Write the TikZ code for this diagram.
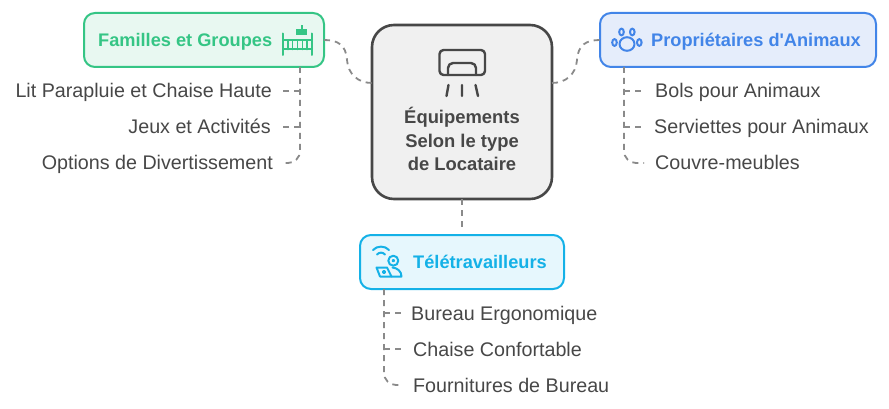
\documentclass[tikz,border=0pt]{standalone}
\usepackage{fontspec}
\setmainfont{Liberation Sans}
\definecolor{inkgrey}{HTML}{474747}
\definecolor{linkgrey}{HTML}{8A8A8A}
\definecolor{famgreen}{HTML}{35C585}
\definecolor{famfill}{HTML}{E8F8F1}
\definecolor{petblue}{HTML}{4285E8}
\definecolor{petfill}{HTML}{E5EDFB}
\definecolor{telcyan}{HTML}{14B1E7}
\definecolor{telfill}{HTML}{E6F7FD}
\tikzset{
  box/.style={draw, line width=2, rounded corners=11, outer sep=0, minimum height=54},
  title/.style={font=\fontsize{18.2}{22}\selectfont\bfseries, inner sep=0, text height=14, text depth=1},
  leaf/.style={font=\fontsize{19.7}{22}\selectfont, text=inkgrey, inner xsep=0, inner ysep=0, text height=16, text depth=2},
  link/.style={draw=linkgrey, line width=1.8, dash pattern=on 6 off 5},
  icon/.style={line width=2, line cap=round, line join=round}
}
\begin{document}
\begin{tikzpicture}[x=1pt, y=-1pt]
  \useasboundingbox (0,0) rectangle (889,409);
  % central node
  \node[box, draw=inkgrey, fill=black!6, line width=2.6, rounded corners=22, minimum width=180, minimum height=174] (hub) at (462,112) {};
  \node[font=\fontsize{18.4}{23.7}\selectfont\bfseries, text=inkgrey, align=center, inner sep=0] (hubtext) at (462,139) {Équipements\\Selon le type\\de Locataire};
  % group boxes
  \node[box, draw=famgreen, fill=famfill, minimum width=240] (fam) at (204,40) {};
  \node[box, draw=petblue, fill=petfill, minimum width=276] (pet) at (738,40) {};
  \node[box, draw=telcyan, fill=telfill, minimum width=204] (tel) at (462,262) {};
  \node[title, text=famgreen, anchor=west] (famtitle) at (98,40) {Familles et Groupes};
  \node[title, text=petblue, anchor=west] (pettitle) at (651,40) {Propriétaires d\textquotesingle Animaux};
  \node[title, text=telcyan, anchor=west] (teltitle) at (413,262) {Télétravailleurs};
  % leaves
  \node[leaf, anchor=east] (fam1) at (272,91) {Lit Parapluie et Chaise Haute};
  \node[leaf, anchor=east] (fam2) at (271,127) {Jeux et Activités};
  \node[leaf, anchor=east] (fam3) at (273,163) {Options de Divertissement};
  \node[leaf, anchor=west] (pet1) at (655,91) {Bols pour Animaux};
  \node[leaf, anchor=west] (pet2) at (654,127) {Serviettes pour Animaux};
  \node[leaf, anchor=west] (pet3) at (655,163) {Couvre-meubles};
  \node[leaf, anchor=west] (tel1) at (411,313) {Bureau Ergonomique};
  \node[leaf, anchor=west] (tel2) at (413,349) {Chaise Confortable};
  \node[leaf, anchor=west] (tel3) at (413,385) {Fournitures de Bureau};
  % connector ends
  \coordinate (hubleft) at (372,83);
  \coordinate (hubright) at (552,83);
  \coordinate (famroot) at (300,67);
  \coordinate (petroot) at (624,67);
  \coordinate (telroot) at (384,289);
  % links to the central node
  \draw[link] (fam.east) .. controls (338,40) and (346,45) .. (347,60) .. controls (348,74) and (358,83) .. (hubleft);
  \draw[link] (hubright) .. controls (566,83) and (576,74) .. (577,60) .. controls (578,45) and (586,40) .. (pet.west);
  \draw[link, shorten >=6] (hub.south) -- (tel.north);
  % branches
  \foreach \a/\b/\g in {famroot/fam1/10,famroot/fam2/10,petroot/pet1/11,petroot/pet2/10,telroot/tel1/9,telroot/tel2/10}
    \draw[link, shorten >=\g] (\a |- \b) -- (\b);
  \foreach \a/\b/\g in {famroot/fam3/9,petroot/pet3/11,telroot/tel3/10}
    \draw[link, rounded corners=12, shorten >=\g] (\a) |- (\b);
  % crib icon
  \begin{scope}[icon, draw=famgreen]
    \draw (283,33.5) -- (283,55) (312,33.5) -- (312,55);
    \draw (283,40) -- (312,40) (283,49.5) -- (312,49.5);
    \foreach \x in {288,292.5,297.5,302.5,307} \draw[line width=1.6] (\x,40) -- (\x,49.5);
    \fill[famgreen] (296,29) rectangle (307,35.5);
    \fill[famgreen] (300.5,25) rectangle (303,29);
  \end{scope}
  % air conditioner icon
  \begin{scope}[icon, draw=inkgrey, line width=2.4]
    \draw[rounded corners=4] (439.5,50) rectangle (485,75);
    \draw[rounded corners=5] (448,75) -- (448,63) -- (476,63) -- (476,75);
    \draw (448.5,85) -- (446.5,96) (462,85) -- (462,96) (475.5,85) -- (478,96);
  \end{scope}
  % paw icon
  \begin{scope}[icon, draw=petblue]
    \draw (621.5,32) ellipse [x radius=2.3, y radius=3.4];
    \draw (632.3,32) ellipse [x radius=2.3, y radius=3.4];
    \draw (614.5,42.5) ellipse [x radius=2.3, y radius=3.4];
    \draw (639.3,42.5) ellipse [x radius=2.3, y radius=3.4];
    \draw (627,44) ellipse [x radius=7.5, y radius=6.8];
  \end{scope}
  % remote worker icon
  \begin{scope}[icon, draw=telcyan]
    \draw (373,250) .. controls (377,245.5) and (385,245.5) .. (389,250);
    \draw (377,254.5) .. controls (379.5,252) and (382.5,252) .. (385,254.5);
    \draw (393.3,260.7) circle [radius=5];
    \draw[fill=telcyan] (393.3,260.7) circle [radius=0.8];
    \draw (376.5,267.5) -- (387,267.5) -- (391.5,276.5) -- (380,276.5) -- cycle;
    \draw[fill=telcyan] (384,272) circle [radius=1.2];
    \draw (391.5,276.5) -- (401.5,276.5) .. controls (401.5,271) and (397,268) .. (392.5,267.5);
  \end{scope}
\end{tikzpicture}
\end{document}
